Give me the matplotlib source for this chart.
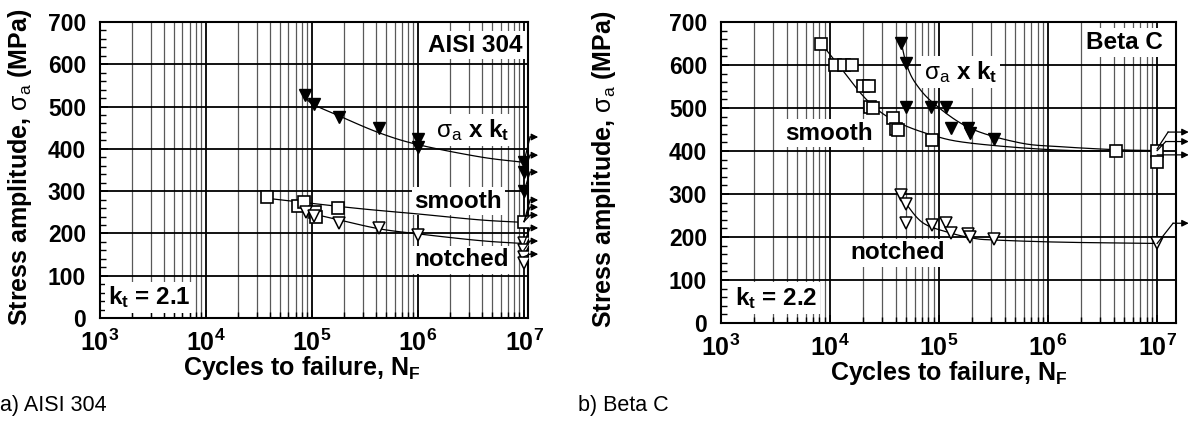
import numpy as np
import matplotlib
matplotlib.use("Agg")
import matplotlib.pyplot as plt
from matplotlib.ticker import FixedLocator, NullFormatter

# ---------------- data: a) AISI 304 ----------------
a_smooth_N = [3.8e4, 7.3e4, 8.4e4, 1.07e5, 1.1e5, 1.77e5, 1.0e7]
a_smooth_S = [285, 265, 274, 251, 240, 259, 228]
a_notch_N = [8.8e4, 1.04e5, 1.8e5, 4.3e5, 1.0e6, 1.0e7, 1.0e7, 1.0e7, 1.0e7]
a_notch_S = [250, 241, 225, 212, 196, 177, 161, 145, 130]
a_kt_N = [8.6e4, 1.04e5, 1.8e5, 4.3e5, 1.0e6, 1.0e6, 1.0e7, 1.0e7, 1.0e7]
a_kt_S = [527, 506, 476, 449, 423, 405, 370, 346, 300]
# fitted trend curves
a_kt_fit_N = [8.5e4, 1.0e5, 1.8e5, 4.3e5, 1.0e6, 3.85e6, 1.0e7]
a_kt_fit_S = [527, 507, 478, 438, 410, 381, 368]
a_smooth_fit_N = [3.8e4, 1.0e5, 3.0e5, 1.0e6, 3.85e6, 1.0e7]
a_smooth_fit_S = [283, 271, 258, 246, 232, 226]
a_notch_fit_N = [8.8e4, 1.8e5, 4.3e5, 1.0e6, 3.85e6, 1.0e7]
a_notch_fit_S = [250, 232, 211, 199, 183, 176]
# run-outs (start stress, arrow stress)
a_run_start = [370, 346, 300, 228, 228, 228, 177, 161, 145]
a_run_arrow = [428, 385, 345, 279, 262, 243, 213, 182, 151]

# ---------------- data: b) Beta C ----------------
b_smooth_N = [8.3e3, 1.1e4, 1.34e4, 1.6e4, 2.0e4, 2.3e4, 2.33e4, 2.5e4, 3.8e4, 4.0e4, 4.2e4, 8.6e4, 4.2e6, 1.0e7, 1.0e7]
b_smooth_S = [650, 600, 600, 600, 551, 551, 502, 499, 476, 452, 450, 426, 401, 401, 375]
b_kt_N = [4.5e4, 5.0e4, 5.0e4, 8.5e4, 1.17e5, 1.29e5, 1.86e5, 1.93e5, 3.2e5]
b_kt_S = [652, 604, 503, 503, 503, 453, 453, 441, 428]
b_notch_N = [4.5e4, 5.0e4, 5.0e4, 8.6e4, 1.17e5, 1.29e5, 1.86e5, 1.93e5, 3.2e5, 1.0e7]
b_notch_S = [298, 277, 232, 229, 232, 209, 206, 201, 195, 185]
b_kt_fit_N = [4.5e4, 5.0e4, 6.0e4, 8.9e4, 1.93e5, 5.5e5, 1.3e6, 4.2e6, 1.0e7]
b_kt_fit_S = [652, 604, 560, 511, 453, 419, 410, 403, 401]
b_smooth_fit_N = [8.3e3, 1.23e4, 2.17e4, 3.8e4, 8.6e4, 2.0e5, 1.3e6, 1.0e7]
b_smooth_fit_S = [650, 596, 519, 472, 437, 418, 402, 400]
b_notch_fit_N = [4.5e4, 5.0e4, 7.2e4, 1.29e5, 2.07e5, 3.2e5, 1.3e6, 1.0e7]
b_notch_fit_S = [298, 277, 232, 209, 197, 193, 188, 185]
b_run_start = [405, 401, 391, 185]
b_run_arrow = [444, 422, 391, 232]

x_ticks = [1e3, 1e4, 1e5, 1e6, 1e7]
x_ticklabels = [r"$\mathbf{10^{3}}$", r"$\mathbf{10^{4}}$", r"$\mathbf{10^{5}}$",
                r"$\mathbf{10^{6}}$", r"$\mathbf{10^{7}}$"]
y_ticks = [0, 100, 200, 300, 400, 500, 600, 700]

FONT = "Liberation Sans"
plt.rcParams["font.family"] = [FONT, "DejaVu Sans"]
plt.rcParams["mathtext.fontset"] = "custom"
plt.rcParams["mathtext.rm"] = FONT
plt.rcParams["mathtext.bf"] = FONT + ":bold"
plt.rcParams["mathtext.it"] = FONT + ":italic"
plt.rcParams["mathtext.sf"] = FONT

fig = plt.figure(figsize=(11.9, 4.34), dpi=100)
ax1 = fig.add_axes([100 / 1190, 1 - 318 / 434, 428 / 1190, 296 / 434])
ax2 = fig.add_axes([721 / 1190, 1 - 323 / 434, 455 / 1190, 301 / 434])


def smooth_curve(N, S):
    # Catmull-Rom rendering through the read curve points (log-x space)
    x = np.log10(np.asarray(N, float))
    y = np.asarray(S, float)
    px = np.concatenate([[2 * x[0] - x[1]], x, [2 * x[-1] - x[-2]]])
    py = np.concatenate([[2 * y[0] - y[1]], y, [2 * y[-1] - y[-2]]])
    xs, ys = [], []
    t = np.linspace(0, 1, 20)
    for i in range(1, len(px) - 2):
        p0, p1, p2, p3 = (np.array([px[j], py[j]]) for j in (i - 1, i, i + 1, i + 2))
        for tt in t:
            pt = 0.5 * ((2 * p1) + (-p0 + p2) * tt + (2 * p0 - 5 * p1 + 4 * p2 - p3) * tt ** 2
                        + (-p0 + 3 * p1 - 3 * p2 + p3) * tt ** 3)
            xs.append(pt[0]); ys.append(pt[1])
    return 10 ** np.array(xs), np.array(ys)


def setup(ax, xmax, ylab_x, xlab_x, xlab_y):
    ax.set_xscale("log")
    ax.set_xlim(1e3, xmax)
    ax.set_ylim(0, 700)
    ax.xaxis.set_major_locator(FixedLocator(x_ticks))
    minors = [m * 10 ** e for e in range(3, 7) for m in range(2, 10)]
    ax.xaxis.set_minor_locator(FixedLocator(minors))
    ax.xaxis.set_minor_formatter(NullFormatter())
    ax.set_xticklabels(x_ticklabels)
    ax.yaxis.set_major_locator(FixedLocator(y_ticks))
    ax.yaxis.set_minor_locator(FixedLocator(list(range(0, 701, 20))))
    ax.tick_params(which="both", direction="in", width=1.2)
    ax.tick_params(which="major", length=6)
    ax.tick_params(which="minor", length=4, width=1.0)
    ax.tick_params(axis="x", pad=8, labelsize=18)
    ax.tick_params(axis="y", pad=10, labelsize=16.5)
    for lab in ax.get_yticklabels():
        lab.set_fontweight("bold")
    ax.grid(True, which="major", color="black", lw=1.3, zorder=0)
    ax.grid(True, which="minor", axis="x", color="0.35", lw=0.9, zorder=0)
    ax.set_axisbelow(True)
    for sp in ax.spines.values():
        sp.set_linewidth(1.5)
    ax.set_xlabel(r"Cycles to failure, N$_\mathbf{F}$", fontsize=18, fontweight="bold")
    ax.set_ylabel(r"Stress amplitude, $\mathrm{\sigma_a}$ (MPa)", fontsize=18, fontweight="bold")
    ax.yaxis.set_label_coords(ylab_x, 0.51)
    ax.xaxis.set_label_coords(xlab_x, xlab_y)


box = dict(facecolor="white", edgecolor="none", pad=2)
TS = 17.5

# ---------------- panel a ----------------
setup(ax1, 1.09e7, -0.154, 0.472, -0.122)
for N, S in [(a_kt_fit_N, a_kt_fit_S), (a_smooth_fit_N, a_smooth_fit_S), (a_notch_fit_N, a_notch_fit_S)]:
    cx, cy = smooth_curve(N, S)
    ax1.plot(cx, cy, color="black", lw=0.9, zorder=3)
ax1.plot(a_smooth_N, a_smooth_S, ls="none", marker="s", ms=8, mfc="white", mec="black", mew=1.2, zorder=5)
ax1.plot(a_notch_N, a_notch_S, ls="none", marker="v", ms=8, mfc="white", mec="black", mew=1.1, zorder=5)
ax1.plot(a_kt_N, a_kt_S, ls="none", marker="v", ms=8, mfc="black", mec="black", zorder=5)
for s0, s1 in zip(a_run_start, a_run_arrow):
    ax1.plot([1.0e7, 1.14e7], [s0, s1], color="black", lw=0.9, clip_on=False, zorder=6)
    ax1.annotate("", xy=(1.36e7, s1), xytext=(1.14e7, s1), annotation_clip=False,
                 arrowprops=dict(arrowstyle="-|>", lw=0.9, color="black", mutation_scale=10,
                                 shrinkA=0, shrinkB=0), zorder=6)

ax1.text(0.986, 0.922, "AISI 304", transform=ax1.transAxes, ha="right", va="center",
         fontsize=TS, fontweight="bold", bbox=box, zorder=2)
ax1.text(0.871, 0.635, r"$\mathrm{\sigma_a}$ x $\mathbf{k_t}$", transform=ax1.transAxes, ha="center",
         va="center", fontsize=TS, fontweight="bold", bbox=box, zorder=2)
ax1.text(0.837, 0.395, "smooth", transform=ax1.transAxes, ha="center", va="center",
         fontsize=TS, fontweight="bold", bbox=box, zorder=2)
ax1.text(0.846, 0.196, "notched", transform=ax1.transAxes, ha="center", va="center",
         fontsize=TS, fontweight="bold", bbox=box, zorder=2)
ax1.text(0.019, 0.07, r"$\mathbf{k_t}$ = 2.1", transform=ax1.transAxes, ha="left", va="center",
         fontsize=TS, fontweight="bold", bbox=box, zorder=2)

# ---------------- panel b ----------------
setup(ax2, 1.49e7, -0.227, 0.5, -0.12)
for N, S in [(b_kt_fit_N, b_kt_fit_S), (b_smooth_fit_N, b_smooth_fit_S), (b_notch_fit_N, b_notch_fit_S)]:
    cx, cy = smooth_curve(N, S)
    ax2.plot(cx, cy, color="black", lw=0.9, zorder=3)
ax2.plot(b_smooth_N, b_smooth_S, ls="none", marker="s", ms=8, mfc="white", mec="black", mew=1.2, zorder=5)
ax2.plot(b_notch_N, b_notch_S, ls="none", marker="v", ms=8, mfc="white", mec="black", mew=1.1, zorder=5)
ax2.plot(b_kt_N, b_kt_S, ls="none", marker="v", ms=8, mfc="black", mec="black", zorder=5)
knees_b = [1.26e7, 1.2e7, 1.0e7, 1.4e7]
for s0, s1, k in zip(b_run_start, b_run_arrow, knees_b):
    ax2.plot([1.0e7, k], [s0, s1], color="black", lw=0.9, clip_on=False, zorder=6)
    ax2.annotate("", xy=(1.95e7, s1), xytext=(k, s1), annotation_clip=False,
                 arrowprops=dict(arrowstyle="-|>", lw=0.9, color="black", mutation_scale=10,
                                 shrinkA=0, shrinkB=0), zorder=6)

ax2.text(0.971, 0.932, "Beta C", transform=ax2.transAxes, ha="right", va="center",
         fontsize=TS, fontweight="bold", bbox=box, zorder=2)
ax2.text(0.527, 0.834, r"$\mathrm{\sigma_a}$ x $\mathbf{k_t}$", transform=ax2.transAxes, ha="center",
         va="center", fontsize=TS, fontweight="bold", bbox=box, zorder=2)
ax2.text(0.237, 0.631, "smooth", transform=ax2.transAxes, ha="center", va="center",
         fontsize=TS, fontweight="bold", bbox=box, zorder=2)
ax2.text(0.389, 0.233, "notched", transform=ax2.transAxes, ha="center", va="center",
         fontsize=TS, fontweight="bold", bbox=box, zorder=2)
ax2.text(0.031, 0.083, r"$\mathbf{k_t}$ = 2.2", transform=ax2.transAxes, ha="left", va="center",
         fontsize=TS, fontweight="bold", bbox=box, zorder=2)

fig.text(0 / 1190, 1 - 405 / 434, "a) AISI 304", fontsize=15.5, ha="left", va="center")
fig.text(578 / 1190, 1 - 405 / 434, "b) Beta C", fontsize=15.5, ha="left", va="center")

fig.savefig("out.png", dpi=100)
